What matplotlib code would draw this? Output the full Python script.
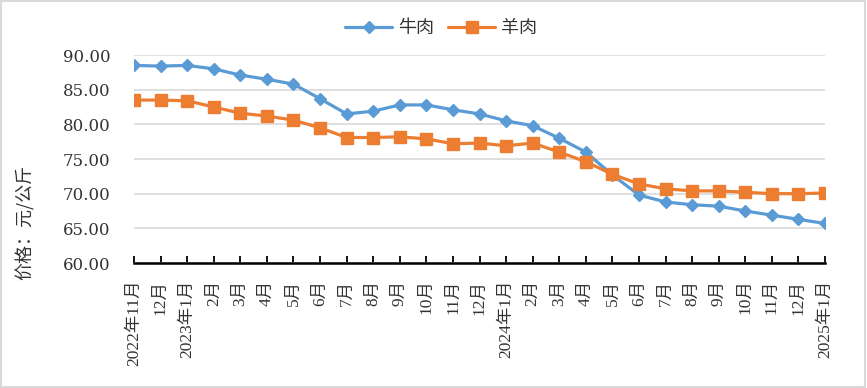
import matplotlib
matplotlib.use("Agg")
import matplotlib.pyplot as plt
from matplotlib.patches import Rectangle

plt.rcParams['font.family'] = ['Liberation Serif', 'Noto Sans CJK SC', 'DejaVu Sans']

months = ["2022年11月", "12月", "2023年1月", "2月", "3月", "4月", "5月", "6月", "7月",
          "8月", "9月", "10月", "11月", "12月", "2024年1月", "2月", "3月", "4月", "5月",
          "6月", "7月", "8月", "9月", "10月", "11月", "12月", "2025年1月"]
beef = [88.5, 88.4, 88.5, 88.0, 87.1, 86.5, 85.8, 83.7, 81.5, 81.9, 82.8, 82.8,
        82.1, 81.5, 80.5, 79.8, 78.0, 76.0, 72.7, 69.8, 68.8, 68.4, 68.2, 67.5,
        66.9, 66.3, 65.7]
lamb = [83.5, 83.5, 83.4, 82.5, 81.6, 81.2, 80.6, 79.5, 78.1, 78.1, 78.2, 77.9,
        77.2, 77.3, 76.9, 77.3, 76.0, 74.6, 72.8, 71.4, 70.7, 70.4, 70.4, 70.2,
        70.0, 70.0, 70.1]
series_names = ["牛肉", "羊肉"]
yticks = [60, 65, 70, 75, 80, 85, 90]

W, H = 867, 388
fig = plt.figure(figsize=(W / 100, H / 100), dpi=100)
ax = fig.add_axes([134 / W, 1 - 263 / H, (825 - 134) / W, (263 - 55) / H])

x = list(range(len(months)))
blue = "#5B9BD5"
orange = "#ED7D31"
l1, = ax.plot(x, beef, color=blue, lw=2.3, marker="D", markersize=6.5,
              label=series_names[0], zorder=3, solid_capstyle="round")
l2, = ax.plot(x, lamb, color=orange, lw=2.3, marker="s", markersize=8,
              label=series_names[1], zorder=3, solid_capstyle="round")

ax.set_xlim(0, len(months) - 1)
ax.set_ylim(60, 90)
ax.set_yticks(yticks)
ax.set_yticklabels([f"{v:.2f}" for v in yticks], fontsize=12, color="#333333",
                   family=['DejaVu Serif'])
ax.set_xticks(x)
ax.set_xticklabels(months, rotation=90, fontsize=12.5, color="#333333",
                   va="top", ha="center")
ax.grid(axis="y", color="#d9d9d9", lw=1.2)
ax.set_axisbelow(True)
for s in ["top", "right", "left"]:
    ax.spines[s].set_visible(False)
ax.spines["bottom"].set_color("black")
ax.spines["bottom"].set_linewidth(1.8)
ax.spines["bottom"].set_zorder(4)
ax.tick_params(axis="y", length=0, pad=17)
ax.tick_params(axis="x", direction="in", length=5, width=1.3, color="black", pad=12)

fig.text(25 / W, 1 - 222 / H, "价格：元/公斤", rotation=90, fontsize=13,
         ha="center", va="center", color="#333333",
         family=['Noto Sans CJK SC', 'DejaVu Sans'])

leg = fig.legend(handles=[l1, l2], loc="center", bbox_to_anchor=(441 / W, 1 - 28 / H),
                 ncol=2, frameon=False, handlelength=2.6,
                 columnspacing=0.8, handletextpad=0.3,
                 prop={'family': ['Noto Sans CJK SC'], 'size': 13})
for t in leg.get_texts():
    t.set_color("#333333")

fig.patches.append(Rectangle((0.001, 0.002), 0.997, 0.995, transform=fig.transFigure,
                             fill=False, edgecolor="#d9d9d9", lw=1.5))

fig.savefig("out.png", dpi=100)
